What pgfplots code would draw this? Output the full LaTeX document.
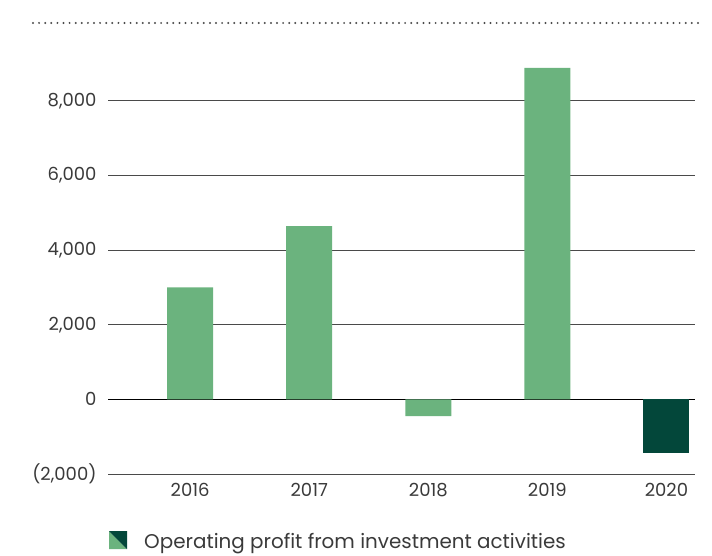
\documentclass[border=0pt]{standalone}
\usepackage{fontspec}
\setmainfont{Poppins}
\usepackage{pgfplots}
\pgfplotsset{compat=1.18}
\definecolor{barlight}{HTML}{6BB37E}
\definecolor{bardark}{HTML}{03473A}
\definecolor{txt}{HTML}{3A3A3A}
\definecolor{gridc}{HTML}{4A4A4A}
\begin{document}
\begin{tikzpicture}[x=1bp,y=1bp]
\useasboundingbox (0,0) rectangle (712,-556);
% dotted rule across the top
\draw[gridc, line width=2.2bp, line cap=round, dash pattern=on 0bp off 6.1bp] (33,-23) -- (700,-23);
\begin{axis}[
  at={(108bp,-474bp)}, anchor=south west,
  scale only axis, width=587bp, height=410.6bp,
  xmin=-0.69, xmax=4.24,
  ymin=-2000, ymax=9000,
  axis line style={draw=none},
  clip=false,
  font=\fontsize{18bp}{21bp}\selectfont\color{txt},
  xtick={0,1,2,3,4},
  xticklabels={2016,2017,2018,2019,2020},
  ytick={-2000,0,2000,4000,6000,8000},
  yticklabels={{(2,000)},{0},{2,000},{4,000},{6,000},{8,000}},
  ymajorgrids=true,
  major grid style={gridc, line width=1bp},
  major tick length=0pt,
  yticklabel style={anchor=east, xshift=-8bp},
  xticklabel style={anchor=north, yshift=-6bp},
  ybar, bar width=46bp,
]
\draw[black, line width=1.1bp] (axis cs:-0.69,0) -- (axis cs:4.24,0);
\addplot[fill=barlight, draw=none, bar shift=0pt] coordinates {(0,3000) (1,4640) (2,-450) (3,8880)};
\addplot[fill=bardark, draw=none, bar shift=0pt] coordinates {(4,-1440)};
\end{axis}
% legend
\fill[barlight] (109,-531) -- (109,-549) -- (127,-549) -- cycle;
\fill[bardark] (109,-531) -- (127,-531) -- (127,-549) -- cycle;
\node[anchor=base west, inner sep=0pt, txt, font=\fontsize{19.9bp}{22bp}\selectfont] at (144,-548) {Operating profit from investment activities};
\end{tikzpicture}
\end{document}
